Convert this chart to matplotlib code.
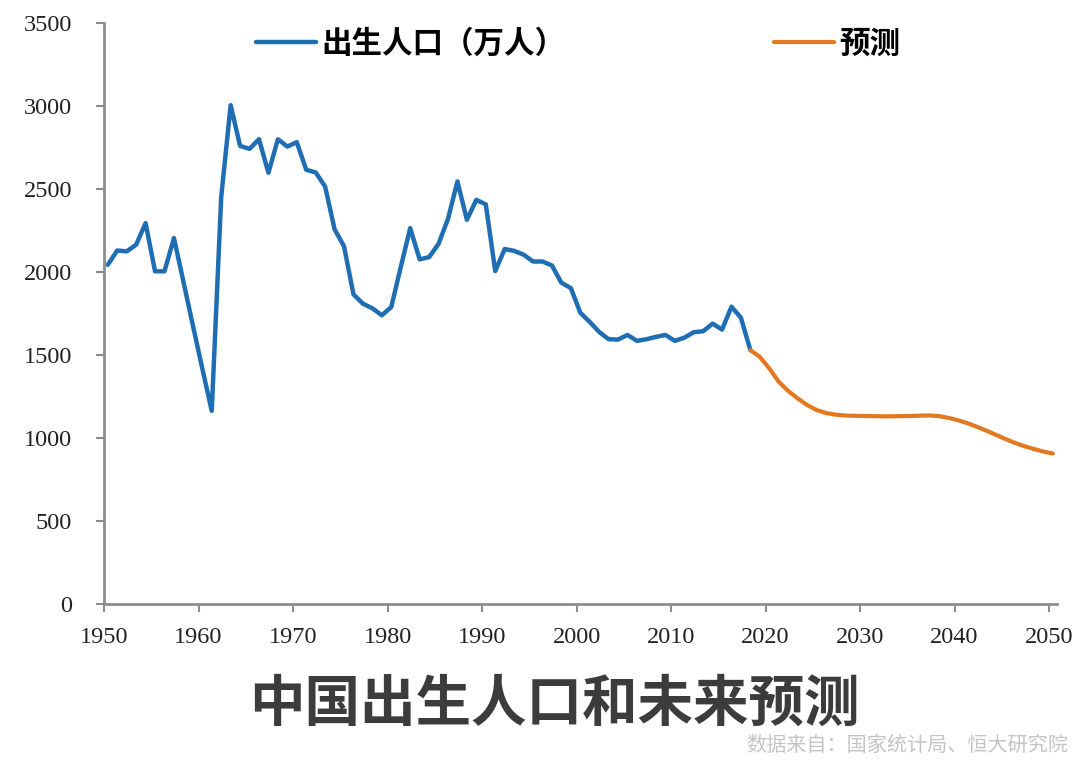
import numpy as np
import matplotlib
matplotlib.use("Agg")
import matplotlib.pyplot as plt

plt.rcParams['font.family'] = ['Noto Sans CJK SC', 'DejaVu Sans']

# historic births (万人), 1950-2018
hist_years = np.arange(1950, 2019)
hist_births = [2044, 2130, 2125, 2165, 2295, 2005, 2005, 2205, 1944, 1680,
               1420, 1165, 2450, 3005, 2760, 2742, 2800, 2598, 2800, 2756,
               2782, 2616, 2600, 2515, 2258, 2155, 1866, 1810, 1782, 1740,
               1790, 2030, 2265, 2077, 2090, 2170, 2320, 2546, 2315, 2435,
               2408, 2006, 2139, 2128, 2105, 2064, 2064, 2040, 1936, 1904,
               1756, 1700, 1640, 1596, 1594, 1622, 1586, 1596, 1610, 1622,
               1586, 1605, 1638, 1644, 1690, 1654, 1792, 1725, 1530]

# forecast (万人), 2018-2050
fc_years = np.arange(2018, 2051)
fc_births = [1530, 1490, 1420, 1340, 1285, 1240, 1200, 1170, 1152, 1142,
             1137, 1135, 1134, 1133, 1132, 1132, 1133, 1134, 1136, 1137,
             1133, 1122, 1108, 1090, 1068, 1045, 1020, 995, 972, 952,
             935, 920, 908]

blue = '#1f6db3'
orange = '#e2781f'
shift = 0.4  # points sit a bit right of the year tick

fig = plt.figure(figsize=(10.8, 7.65), dpi=100)
ax = fig.add_axes([0.0963, 0.21, 0.882, 0.76])

ax.plot(hist_years + shift, hist_births, color=blue, lw=3.2,
        solid_joinstyle='round', solid_capstyle='round', label='出生人口（万人）')
ax.plot(fc_years + shift, fc_births, color=orange, lw=3.0,
        solid_joinstyle='round', solid_capstyle='round', label='预测')

ax.set_xlim(1950, 2050.8)
ax.set_ylim(0, 3500)
ax.set_xticks(np.arange(1950, 2051, 10))
ax.set_yticks(np.arange(0, 3501, 500))

for s in ['top', 'right']:
    ax.spines[s].set_visible(False)
for s in ['left', 'bottom']:
    ax.spines[s].set_color('#8c8c8c')
    ax.spines[s].set_linewidth(2)
ax.tick_params(axis='both', colors='#8c8c8c', width=1.5, length=6,
               labelcolor='#222222', labelsize=17.5)
ax.tick_params(axis='x', pad=10)
ax.tick_params(axis='y', pad=17)
for lab in ax.get_xticklabels() + ax.get_yticklabels():
    lab.set_family('Liberation Serif')

leg = ax.legend(loc='center left', bbox_to_anchor=(256 / 1080, 1 - 44 / 765),
                bbox_transform=fig.transFigure, ncol=2, frameon=False,
                handlelength=1.95, handletextpad=0.18, columnspacing=6.85,
                borderpad=0, borderaxespad=0,
                prop={'size': 22, 'weight': 'bold'})

fig.text(0.513, 1 - 705 / 765, '中国出生人口和未来预测', ha='center', va='center',
         fontsize=40, fontweight='bold', color='#3c3c3c')
fig.text(0.989, 1 - 745 / 765, '数据来自：国家统计局、恒大研究院', ha='right',
         va='center', fontsize=14.5, color='#c4c4c4', style='italic')

fig.savefig('out.png', dpi=100, facecolor='white')
